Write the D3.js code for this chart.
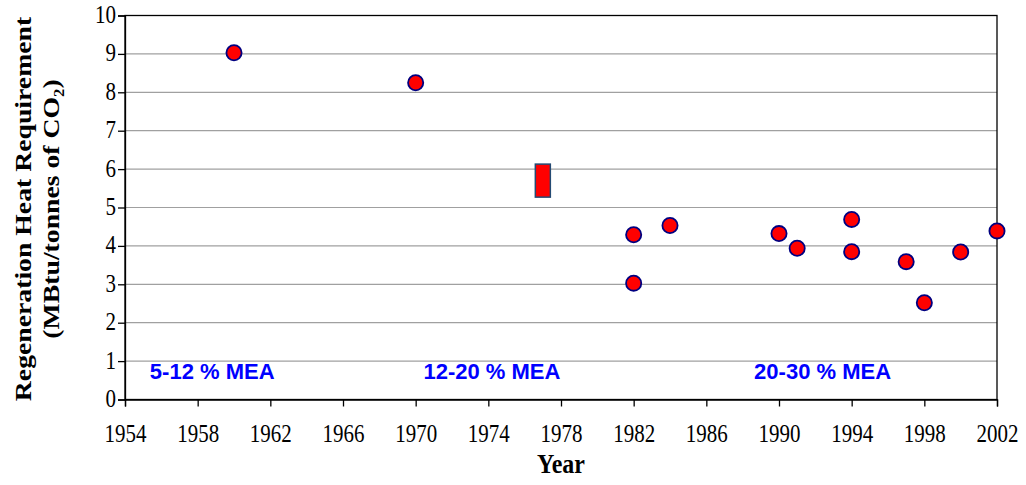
<!DOCTYPE html>
<html><head><meta charset="utf-8">
<script src="https://cdn.jsdelivr.net/npm/d3@7"></script>
<style>body{margin:0;background:#fff}svg{display:block}</style>
</head><body>
<svg id="c" width="1026" height="485"></svg>
<script>
// ---- data ----
const years  = [1960, 1970, 1982, 1982, 1984, 1990, 1991, 1994, 1994, 1997, 1998, 2000, 2002];
const values = [9.03, 8.25, 4.29, 3.03, 4.53, 4.32, 3.94, 4.69, 3.85, 3.59, 2.52, 3.84, 4.39];
const rangeYears = [1977];
const rangeLow   = [5.27];
const rangeHigh  = [6.13];
const xTicks = [1954, 1958, 1962, 1966, 1970, 1974, 1978, 1982, 1986, 1990, 1994, 1998, 2002];
const yTicks = [0, 1, 2, 3, 4, 5, 6, 7, 8, 9, 10];
const groupLabels = ["5-12 % MEA", "12-20 % MEA", "20-30 % MEA"];
const groupYears  = [1958.8, 1974.2, 1992.4];
const groupLevel  = [0.55, 0.55, 0.55];
const xTitle = "Year";
const yTitle1 = "Regeneration Heat Requirement";
const yTitle2 = "(MBtu/tonnes of CO\u2082)";

// ---- layout ----
const L = 125, R = 997, T = 15.5, B = 399.5;
const SY = 1.18; // vertical stretch of the reference text
const svg = d3.select("#c");
const x = d3.scaleLinear().domain([1954, 2002]).range([L, R]);
const y = d3.scaleLinear().domain([0, 10]).range([B, T]);

// gridlines
svg.append("g").selectAll("line").data(yTicks.filter(d => d > 0 && d < 10)).join("line")
  .attr("x1", L).attr("x2", R).attr("y1", d => y(d)).attr("y2", d => y(d))
  .attr("stroke", "#a0a0a0").attr("stroke-width", 1.2);

// border
svg.append("rect").attr("x", L).attr("y", T).attr("width", R - L).attr("height", B - T)
  .attr("fill", "none").attr("stroke", "#000").attr("stroke-width", 1.3);

// axes
const serif = "'Liberation Serif','Times New Roman',serif";
const gx = svg.append("g").attr("transform", `translate(0,${B})`)
  .call(d3.axisBottom(x).tickValues(xTicks).tickFormat(d3.format("d")).tickSize(7).tickPadding(0));
const gy = svg.append("g").attr("transform", `translate(${L},0)`)
  .call(d3.axisLeft(y).tickValues(yTicks).tickSize(7).tickPadding(0));
[gx, gy].forEach(g => {
  g.attr("font-family", serif).attr("font-size", 21);
  g.select(".domain").attr("stroke", "#000").attr("stroke-width", 1.3);
  g.selectAll(".tick line").attr("stroke", "#000").attr("stroke-width", 1.3);
  g.selectAll("text").attr("fill", "#000").style("font-family", serif).style("font-size", "21px");
});
gx.selectAll(".tick text").attr("y", null).attr("dy", null)
  .attr("transform", `translate(0,42) scale(1,${SY})`);
gy.selectAll(".tick text").attr("x", null).attr("dy", null)
  .attr("transform", `translate(-9,7) scale(1,${SY})`);

// group annotations
svg.append("g").selectAll("text").data(groupLabels).join("text")
  .attr("x", (d, i) => x(groupYears[i])).attr("y", (d, i) => y(groupLevel[i]) + 1)
  .attr("text-anchor", "middle").attr("fill", "#0000ff")
  .style("font-family", "'Liberation Sans',Arial,sans-serif").style("font-weight", "bold").style("font-size", "22px")
  .text(d => d);

// range bar
svg.append("g").selectAll("rect").data(rangeYears).join("rect")
  .attr("x", d => x(d) - 7.5).attr("width", 15)
  .attr("y", (d, i) => y(rangeHigh[i])).attr("height", (d, i) => y(rangeLow[i]) - y(rangeHigh[i]))
  .attr("fill", "#ff0000").attr("stroke", "#244a73").attr("stroke-width", 1.5);

// points
svg.append("g").selectAll("circle").data(years).join("circle")
  .attr("cx", d => x(d)).attr("cy", (d, i) => y(values[i])).attr("r", 7.6)
  .attr("fill", "#ff0000").attr("stroke", "#000080").attr("stroke-width", 1.8);

// titles
svg.append("text").attr("transform", `translate(${(L + R) / 2},473) scale(1,${SY})`)
  .attr("text-anchor", "middle").style("font-family", serif).style("font-weight", "bold").style("font-size", "24px")
  .text(xTitle);
const cy = 209;
svg.append("text").attr("transform", `translate(31,${cy}) scale(1,${SY}) rotate(-90)`)
  .attr("text-anchor", "middle").style("font-family", serif).style("font-weight", "bold").style("font-size", "23.5px")
  .text(yTitle1);
svg.append("text").attr("transform", `translate(59,${cy}) scale(1,${SY}) rotate(-90)`)
  .attr("text-anchor", "middle").style("font-family", serif).style("font-weight", "bold").style("font-size", "23.5px")
  .text(yTitle2);
</script>
</body></html>
